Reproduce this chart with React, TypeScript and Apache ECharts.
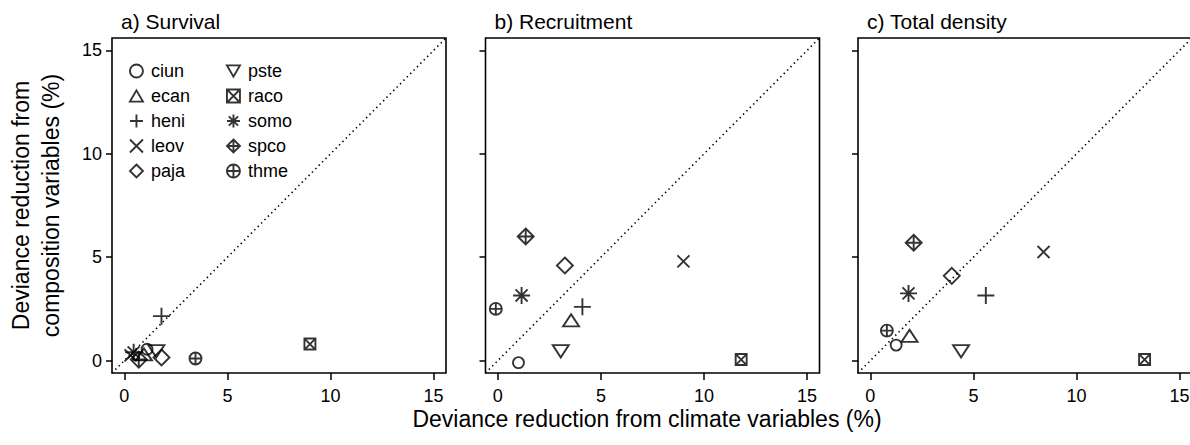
import { useEffect, useRef } from 'react';
import * as echarts from 'echarts';

// ---- data ----
const species = ['ciun', 'ecan', 'heni', 'leov', 'paja', 'pste', 'raco', 'somo', 'spco', 'thme'];
const legendCol1 = ['ciun', 'ecan', 'heni', 'leov', 'paja'];
const legendCol2 = ['pste', 'raco', 'somo', 'spco', 'thme'];
const panelTitles = ['a) Survival', 'b) Recruitment', 'c) Total density'];
const tickValues = [0, 5, 10, 15];
const axisRange = [-0.6, 15.6];

const survivalClimate = [1.1, 0.95, 1.8, 0.3, 1.8, 1.55, 9.0, 0.45, 0.7, 3.45];
const survivalComposition = [0.55, 0.3, 2.15, 0.25, 0.15, 0.45, 0.8, 0.4, 0.05, 0.1];
const recruitmentClimate = [1.0, 3.55, 4.1, 9.0, 3.25, 3.05, 11.8, 1.15, 1.35, -0.1];
const recruitmentComposition = [-0.1, 1.95, 2.6, 4.8, 4.6, 0.45, 0.05, 3.15, 6.0, 2.5];
const densityClimate = [1.25, 1.9, 5.6, 8.4, 3.95, 4.4, 13.3, 1.85, 2.1, 0.8];
const densityComposition = [0.75, 1.2, 3.15, 5.25, 4.1, 0.45, 0.05, 3.25, 5.7, 1.45];

const panels = [
  { x: survivalClimate, y: survivalComposition },
  { x: recruitmentClimate, y: recruitmentComposition },
  { x: densityClimate, y: densityComposition },
];

// ---- styles ----
const FONT = 'Liberation Sans, Arial, Helvetica, sans-serif';
const SYMBOLS: Record<string, [string, number | number[]]> = {
  ciun: ['path://M0 10A10 10 0 1 1 20 10A10 10 0 1 1 0 10Z', 11],
  ecan: ['path://M10 0L20 17.32L0 17.32Z', [16, 14]],
  heni: ['path://M0 10L20 10M10 0L10 20', 17],
  leov: ['path://M0 0L20 20M20 0L0 20', 12],
  paja: ['path://M10 0L20 10L10 20L0 10Z', 16],
  pste: ['path://M0 0L20 0L10 17.32Z', [16, 14]],
  raco: ['path://M0 0L20 0L20 20L0 20ZM0 0L20 20M20 0L0 20', 11],
  somo: ['path://M0 10L20 10M10 0L10 20M2.93 2.93L17.07 17.07M17.07 2.93L2.93 17.07', 17],
  spco: ['path://M10 0L20 10L10 20L0 10ZM0 10L20 10M10 0L10 20', 16],
  thme: ['path://M0 10A10 10 0 1 1 20 10A10 10 0 1 1 0 10ZM0 10L20 10M10 0L10 20', 12],
};
const gridLefts = [112, 485.5, 858];
const GRID_TOP = 38;
const GRID_W = 334;
const GRID_H = 335;
const STROKE = 1.9;

export default function App() {
  const ref = useRef<HTMLDivElement>(null);
  useEffect(() => {
    if (!ref.current) return;
    const chart = echarts.init(ref.current, null, { renderer: 'svg' });

    const grids = gridLefts.map((left) => ({
      left,
      top: GRID_TOP,
      width: GRID_W,
      height: GRID_H,
      show: true,
      borderColor: '#000',
      borderWidth: 1.6,
      backgroundColor: 'transparent',
      containLabel: false,
      outerBoundsMode: 'none',
    }));

    const xAxes = gridLefts.map((_, i) => ({
      type: 'value',
      gridIndex: i,
      position: 'bottom',
      min: axisRange[0],
      max: axisRange[1],
      axisLine: { show: false, onZero: false },
      splitLine: { show: false },
      axisTick: {
        show: true,
        inside: false,
        length: 7,
        lineStyle: { color: '#000', width: 1.5 },
        customValues: tickValues,
      },
      axisLabel: {
        show: true,
        margin: 14,
        color: '#000',
        fontSize: 18,
        fontFamily: FONT,
        customValues: tickValues,
      },
    }));

    const yAxes = gridLefts.map((_, i) => ({
      type: 'value',
      gridIndex: i,
      position: 'left',
      min: axisRange[0],
      max: axisRange[1],
      axisLine: { show: false, onZero: false },
      splitLine: { show: false },
      axisTick: {
        show: true,
        inside: false,
        length: 6,
        lineStyle: { color: '#000', width: 1.5 },
        customValues: tickValues,
      },
      axisLabel: {
        show: i === 0,
        margin: 10,
        color: '#000',
        fontSize: 18,
        fontFamily: FONT,
        customValues: tickValues,
      },
    }));

    const series: any[] = [];
    panels.forEach((p, pi) => {
      series.push({
        type: 'line',
        name: 'identity',
        xAxisIndex: pi,
        yAxisIndex: pi,
        data: [
          [axisRange[0], axisRange[0]],
          [axisRange[1], axisRange[1]],
        ],
        symbol: 'none',
        silent: true,
        z: 1,
        lineStyle: { color: '#000', width: 1.6, type: [1.4, 3.4], cap: 'butt' },
      });
      species.forEach((sp, si) => {
        series.push({
          type: 'scatter',
          name: sp,
          xAxisIndex: pi,
          yAxisIndex: pi,
          data: [[p.x[si], p.y[si]]],
          symbol: SYMBOLS[sp][0],
          symbolSize: SYMBOLS[sp][1],
          symbolKeepAspect: true,
          z: 3,
          itemStyle: { color: 'transparent', borderColor: '#000', borderWidth: STROKE },
          emphasis: { disabled: true },
        });
      });
    });

    const legendCommon = {
      orient: 'vertical',
      top: 61,
      padding: 0,
      itemWidth: 13,
      itemHeight: 13,
      itemGap: 5,
      selectedMode: false,
      textStyle: { fontSize: 18, fontFamily: FONT, color: '#000', lineHeight: 20, padding: [0, 0, 0, 3] },
      itemStyle: { color: 'transparent', borderColor: '#000', borderWidth: STROKE },
    };

    const graphics: any[] = panelTitles.map((t, i) => ({
      type: 'text',
      x: gridLefts[i] + 9,
      y: 21,
      style: {
        text: t,
        fontSize: 21,
        fontFamily: FONT,
        fill: '#000',
        align: 'left',
        verticalAlign: 'middle',
      },
    }));
    graphics.push({
      type: 'text',
      x: 36,
      y: GRID_TOP + GRID_H / 2,
      rotation: Math.PI / 2,
      style: {
        text: 'Deviance reduction from\ncomposition variables (%)',
        fontSize: 23,
        lineHeight: 30,
        fontFamily: FONT,
        fill: '#000',
        align: 'center',
        verticalAlign: 'middle',
      },
    });
    graphics.push({
      type: 'text',
      x: 647,
      y: 419,
      style: {
        text: 'Deviance reduction from climate variables (%)',
        fontSize: 23,
        fontFamily: FONT,
        fill: '#000',
        align: 'center',
        verticalAlign: 'middle',
      },
    });

    chart.setOption({
      animation: false,
      backgroundColor: '#fff',
      grid: grids,
      xAxis: xAxes,
      yAxis: yAxes,
      legend: [
        { ...legendCommon, left: 129, data: legendCol1 },
        { ...legendCommon, left: 226, data: legendCol2 },
      ],
      graphic: graphics,
      series,
    } as any);

    return () => chart.dispose();
  }, []);

  return (
    <div
      ref={ref}
      style={{ position: 'absolute', left: 0, top: 0, width: 1190, height: 445, background: '#fff' }}
    />
  );
}
